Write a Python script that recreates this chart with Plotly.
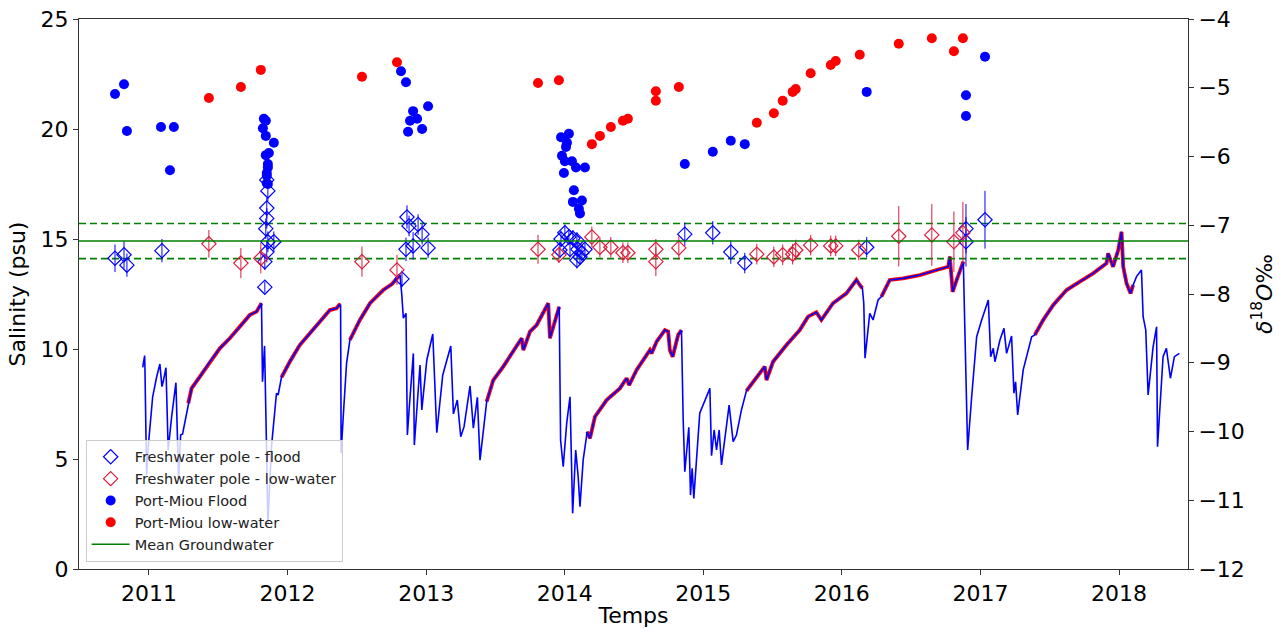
import datetime as dt
import plotly.graph_objects as go

# ---------------- data (decimal years) ----------------
sal_year = [2010.955, 2010.969, 2010.971, 2010.983, 2010.995, 2011.027, 2011.056, 2011.079, 2011.094, 2011.103,
            2011.123, 2011.139, 2011.164, 2011.195, 2011.214, 2011.229, 2011.243, 2011.284, 2011.308, 2011.368,
            2011.440, 2011.512, 2011.584, 2011.657, 2011.729, 2011.777, 2011.813, 2011.820, 2011.835, 2011.849,
            2011.859, 2011.885, 2011.921, 2011.933, 2011.957, 2012.017, 2012.089, 2012.162, 2012.234, 2012.306,
            2012.354, 2012.373, 2012.383, 2012.387, 2012.402, 2012.426, 2012.450, 2012.522, 2012.595, 2012.690,
            2012.753, 2012.811, 2012.823, 2012.835, 2012.854, 2012.864, 2012.878, 2012.907, 2012.914, 2012.955,
            2012.968, 2013.004, 2013.047, 2013.076, 2013.119, 2013.177, 2013.196, 2013.224, 2013.249, 2013.273,
            2013.316, 2013.340, 2013.369, 2013.388, 2013.436, 2013.484, 2013.556, 2013.628, 2013.689, 2013.701,
            2013.749, 2013.797, 2013.845, 2013.881, 2013.893, 2013.917, 2013.960, 2013.970, 2013.989, 2014.014,
            2014.038, 2014.057, 2014.079, 2014.097, 2014.110, 2014.133, 2014.162, 2014.182, 2014.218, 2014.302,
            2014.398, 2014.447, 2014.465, 2014.519, 2014.615, 2014.627, 2014.663, 2014.723, 2014.747, 2014.759,
            2014.779, 2014.819, 2014.843, 2014.855, 2014.867, 2014.896, 2014.908, 2014.920, 2014.932, 2014.975,
            2015.048, 2015.060, 2015.079, 2015.096, 2015.115, 2015.132, 2015.187, 2015.216, 2015.240, 2015.276,
            2015.312, 2015.385, 2015.444, 2015.457, 2015.504, 2015.601, 2015.697, 2015.757, 2015.817, 2015.853,
            2015.937, 2016.034, 2016.106, 2016.130, 2016.149, 2016.159, 2016.168, 2016.202, 2016.226, 2016.262,
            2016.286, 2016.346, 2016.442, 2016.563, 2016.683, 2016.767, 2016.779, 2016.799, 2016.828, 2016.864,
            2016.876, 2016.887, 2016.907, 2016.936, 2016.972, 2017.008, 2017.056, 2017.073, 2017.092, 2017.104,
            2017.140, 2017.169, 2017.188, 2017.224, 2017.241, 2017.253, 2017.268, 2017.308, 2017.369, 2017.392,
            2017.452, 2017.525, 2017.621, 2017.717, 2017.813, 2017.910, 2017.921, 2017.957, 2017.994, 2018.018,
            2018.030, 2018.054, 2018.083, 2018.102, 2018.126, 2018.162, 2018.174, 2018.193, 2018.210, 2018.246,
            2018.271, 2018.278, 2018.294, 2018.318, 2018.342, 2018.371, 2018.400, 2018.424, 2018.436]
sal_psu = [9.17, 9.70, 9.20, 4.27, 5.56, 7.83, 8.74, 9.32, 8.29, 8.51,
           9.15, 5.41, 6.92, 8.47, 4.12, 6.09, 6.14, 7.53, 8.21, 8.74,
           9.42, 10.03, 10.49, 11.01, 11.55, 11.70, 12.08, 8.51, 10.14, 5.56,
           2.09, 5.56, 7.99, 7.91, 8.71, 9.42, 10.18, 10.71, 11.24, 11.77,
           11.85, 12.00, 12.00, 5.27, 6.92, 9.35, 10.41, 11.32, 12.08, 12.68,
           12.95, 13.36, 12.53, 11.40, 11.62, 6.09, 7.38, 9.80, 5.64, 9.27,
           7.23, 9.50, 10.68, 6.20, 8.82, 10.14, 7.05, 7.68, 6.01, 6.47,
           8.32, 6.40, 7.80, 4.95, 7.60, 8.59, 9.20, 9.88, 10.49, 9.95,
           10.79, 11.09, 11.62, 12.08, 10.49, 11.01, 11.92, 5.86, 4.65, 6.62,
           7.83, 2.53, 5.41, 4.20, 2.83, 4.95, 6.24, 5.94, 6.92, 7.68,
           8.21, 8.67, 8.36, 9.05, 9.95, 9.80, 10.33, 10.86, 10.79, 9.95,
           9.65, 10.64, 10.86, 6.86, 4.42, 6.44, 3.36, 4.58, 3.21, 7.08,
           8.21, 5.15, 6.32, 5.41, 6.32, 4.73, 7.45, 5.79, 6.09, 7.23,
           8.10, 8.71, 9.20, 8.59, 9.42, 10.18, 10.86, 11.47, 11.67, 11.32,
           12.08, 12.53, 13.14, 12.91, 12.76, 12.08, 9.58, 11.62, 11.32, 12.23,
           12.38, 13.14, 13.21, 13.36, 13.59, 13.74, 14.20, 12.60, 13.14, 13.82,
           13.97, 10.86, 5.41, 7.83, 10.56, 11.32, 12.23, 9.65, 10.03, 9.42,
           10.41, 10.94, 9.80, 10.59, 7.99, 8.51, 7.00, 9.05, 10.56, 10.64,
           11.32, 12.00, 12.68, 13.06, 13.44, 13.90, 14.35, 13.74, 14.50, 15.33,
           13.74, 12.99, 12.53, 12.91, 13.29, 13.59, 11.47, 10.86, 7.91, 10.10,
           11.01, 5.56, 7.08, 9.65, 10.03, 8.67, 9.65, 9.73, 9.80]

# low-water periods of the salinity record (start, end), decimal years
low_water_periods = [(2011.284, 2011.813), (2011.957, 2012.383), (2012.450, 2012.811),
                     (2013.436, 2013.960), (2014.162, 2014.843), (2015.312, 2016.149),
                     (2016.286, 2016.876), (2017.392, 2018.102)]

# Freshwater pole - flood (delta18O, permil)
fpf_year = [2010.755, 2010.820, 2010.841, 2011.094, 2011.851, 2011.859, 2011.851, 2011.851, 2011.844, 2011.859,
            2011.851, 2011.837, 2011.837, 2011.902, 2012.861, 2012.876, 2012.941, 2012.970, 2012.854, 2012.905,
            2013.013, 2012.825, 2013.973, 2014.001, 2014.030, 2014.059, 2014.088, 2013.965, 2014.038, 2014.095,
            2014.146, 2014.124, 2014.088, 2014.110, 2014.867, 2015.069, 2015.199, 2015.300, 2016.180, 2016.895,
            2016.895, 2017.032]
fpf_d18o = [-7.48, -7.43, -7.58, -7.37, -6.34, -6.50, -6.75, -6.90, -7.05, -7.24,
            -7.39, -7.53, -7.90, -7.24, -6.88, -7.01, -6.99, -7.13, -7.35, -7.30,
            -7.33, -7.78, -7.20, -7.11, -7.17, -7.19, -7.22, -7.36, -7.35, -7.35,
            -7.35, -7.40, -7.51, -7.46, -7.13, -7.11, -7.39, -7.55, -7.32, -7.05,
            -7.24, -6.92]
fpf_err = [0.20, 0.20, 0.17, 0.17, 0.12, 0.15, 0.15, 0.15, 0.15, 0.15,
           0.15, 0.12, 0.08, 0.15, 0.17, 0.15, 0.15, 0.15, 0.17, 0.20,
           0.15, 0.12, 0.12, 0.12, 0.12, 0.12, 0.12, 0.12, 0.12, 0.12,
           0.12, 0.12, 0.12, 0.12, 0.17, 0.17, 0.17, 0.15, 0.15, 0.36,
           0.36, 0.42]

# Freshwater pole - low-water
fpl_year = [2011.433, 2011.664, 2011.808, 2012.537, 2012.789, 2013.807, 2013.958, 2014.196, 2014.254, 2014.333,
            2014.420, 2014.456, 2014.658, 2014.658, 2014.824, 2015.387, 2015.510, 2015.574, 2015.646, 2015.668,
            2015.776, 2015.921, 2015.957, 2016.123, 2016.411, 2016.649, 2016.808, 2016.873]
fpl_d18o = [-7.27, -7.55, -7.48, -7.53, -7.65, -7.35, -7.43, -7.17, -7.32, -7.32,
            -7.40, -7.40, -7.35, -7.53, -7.33, -7.42, -7.46, -7.43, -7.42, -7.36,
            -7.29, -7.30, -7.30, -7.36, -7.16, -7.14, -7.24, -7.11]
fpl_err = [0.20, 0.22, 0.22, 0.22, 0.22, 0.21, 0.12, 0.15, 0.15, 0.15,
           0.15, 0.15, 0.15, 0.21, 0.17, 0.15, 0.15, 0.15, 0.15, 0.15,
           0.15, 0.15, 0.15, 0.15, 0.44, 0.45, 0.44, 0.45]

# Port-Miou flood
pmf_year = [2010.755, 2010.820, 2010.841, 2011.087, 2011.152, 2011.180, 2011.830, 2011.844, 2011.823, 2011.844,
            2011.902, 2011.866, 2011.844, 2011.859, 2011.859, 2011.851, 2011.851, 2011.851, 2011.859, 2012.818,
            2012.854, 2012.905, 2012.883, 2012.934, 2012.869, 2012.970, 2013.013, 2013.973, 2014.030, 2014.016,
            2014.009, 2013.980, 2014.052, 2014.001, 2014.081, 2014.146, 2013.994, 2014.066, 2014.059, 2014.124,
            2014.102, 2014.110, 2014.867, 2015.069, 2015.199, 2015.300, 2016.180, 2016.895, 2016.895, 2017.032]
pmf_d18o = [-5.09, -4.95, -5.63, -5.57, -6.20, -5.57, -5.45, -5.48, -5.59, -5.70,
            -5.80, -5.95, -5.98, -6.11, -6.16, -6.24, -6.28, -6.39, -6.40, -4.76,
            -4.92, -5.34, -5.48, -5.45, -5.64, -5.60, -5.27, -5.72, -5.67, -5.80,
            -5.86, -5.99, -6.07, -6.07, -6.16, -6.16, -6.24, -6.49, -6.66, -6.64,
            -6.76, -6.83, -6.11, -5.93, -5.77, -5.82, -5.06, -5.11, -5.41, -4.55]

# Port-Miou low-water
pml_year = [2011.433, 2011.664, 2011.808, 2012.537, 2012.789, 2013.807, 2013.958, 2014.196, 2014.254, 2014.333,
            2014.420, 2014.456, 2014.658, 2014.658, 2014.824, 2015.387, 2015.510, 2015.574, 2015.646, 2015.668,
            2015.776, 2015.921, 2015.957, 2016.130, 2016.411, 2016.649, 2016.808, 2016.873]
pml_d18o = [-5.15, -4.99, -4.74, -4.84, -4.63, -4.93, -4.89, -5.82, -5.70, -5.57,
            -5.48, -5.45, -5.05, -5.19, -4.99, -5.51, -5.37, -5.19, -5.06, -5.02,
            -4.79, -4.67, -4.61, -4.52, -4.36, -4.28, -4.47, -4.28]

gw_mean = -7.23
gw_std = 0.255

x_ticks = [2011, 2012, 2013, 2014, 2015, 2016, 2017, 2018]
x_limits = [2010.495, 2018.498]


def to_date(y):
    year = int(y)
    start = dt.datetime(year, 1, 1)
    end = dt.datetime(year + 1, 1, 1)
    return start + (end - start) * (y - year)


def dates(ys):
    return [to_date(v) for v in ys]


BLUE = "#0000ff"
RED = "#ff0000"
CRIMSON = "#dc1e3c"
GREEN = "#008000"
FONT = "DejaVu Sans"

fig = go.Figure()

# low-water highlight of the salinity record (red under blue)
for (a, b) in low_water_periods:
    xs = [v for v in sal_year if a <= v <= b]
    ys = [s for v, s in zip(sal_year, sal_psu) if a <= v <= b]
    fig.add_trace(go.Scatter(x=dates(xs), y=ys, mode="lines",
                             line=dict(color=RED, width=3.8), showlegend=False,
                             hoverinfo="skip"))

fig.add_trace(go.Scatter(x=dates(sal_year), y=sal_psu, mode="lines",
                         line=dict(color=BLUE, width=1.6), showlegend=False))

xl = dates(x_limits)
# groundwater lines (secondary axis)
fig.add_trace(go.Scatter(x=xl, y=[gw_mean + gw_std] * 2, yaxis="y2", mode="lines",
                         line=dict(color=GREEN, width=1.6, dash="7px,4px"), showlegend=False))
fig.add_trace(go.Scatter(x=xl, y=[gw_mean - gw_std] * 2, yaxis="y2", mode="lines",
                         line=dict(color=GREEN, width=1.6, dash="7px,4px"), showlegend=False))

fig.add_trace(go.Scatter(x=dates(fpf_year), y=fpf_d18o, yaxis="y2", mode="markers",
                         name="Freshwater pole - flood",
                         marker=dict(symbol="diamond-open", size=11, color=BLUE, line=dict(width=1.2, color=BLUE)),
                         error_y=dict(type="data", array=fpf_err, visible=True, color=BLUE, thickness=1, width=0)))
fig.add_trace(go.Scatter(x=dates(fpl_year), y=fpl_d18o, yaxis="y2", mode="markers",
                         name="Freshwater pole - low-water",
                         marker=dict(symbol="diamond-open", size=11, color=CRIMSON, line=dict(width=1.2, color=CRIMSON)),
                         error_y=dict(type="data", array=fpl_err, visible=True, color=CRIMSON, thickness=1, width=0)))
fig.add_trace(go.Scatter(x=dates(pmf_year), y=pmf_d18o, yaxis="y2", mode="markers",
                         name="Port-Miou Flood", marker=dict(symbol="circle", size=10, color=BLUE)))
fig.add_trace(go.Scatter(x=dates(pml_year), y=pml_d18o, yaxis="y2", mode="markers",
                         name="Port-Miou low-water", marker=dict(symbol="circle", size=10, color=RED)))
fig.add_trace(go.Scatter(x=xl, y=[gw_mean] * 2, yaxis="y2", mode="lines",
                         name="Mean Groundwater", line=dict(color=GREEN, width=1.6)))

axis_common = dict(showline=True, linecolor="#333333", linewidth=1, ticks="outside",
                   ticklen=5, tickcolor="#333333", showgrid=False, zeroline=False,
                   automargin=False,
                   tickfont=dict(family=FONT, size=22, color="black"))

fig.update_layout(
    width=1284, height=633,
    margin=dict(l=79, r=96, t=19, b=64),
    paper_bgcolor="white", plot_bgcolor="white",
    font=dict(family=FONT, color="black"),
    xaxis=dict(**axis_common, type="date", range=xl, mirror=True,
               tickvals=dates(x_ticks), ticktext=[str(t) for t in x_ticks],
               title=dict(text="Temps", font=dict(family=FONT, size=22), standoff=2)),
    yaxis=dict(**axis_common, range=[0, 25], tickvals=[0, 5, 10, 15, 20, 25],
               title=dict(text="Salinity (psu)", font=dict(family=FONT, size=22), standoff=8)),
    yaxis2=dict(**axis_common, overlaying="y", side="right", range=[-12, -4],
                tickvals=[-12, -11, -10, -9, -8, -7, -6, -5, -4],
                ticktext=["\u221212", "\u221211", "\u221210", "\u22129", "\u22128", "\u22127", "\u22126", "\u22125", "\u22124"],
                title=dict(text="<i>\u03b4</i><sup>18</sup><i>O</i>\u2030", font=dict(family=FONT, size=22), standoff=12)),
    legend=dict(x=0.006, y=0.013, xanchor="left", yanchor="bottom",
                bgcolor="rgba(255,255,255,0.8)", bordercolor="#cccccc", borderwidth=1,
                itemwidth=38,
                font=dict(family=FONT, size=14.5, color="#222222"), tracegroupgap=0),
    showlegend=True,
)

fig.write_html("out.html", config={"displayModeBar": False},
               post_script="document.body.style.margin='0';")
